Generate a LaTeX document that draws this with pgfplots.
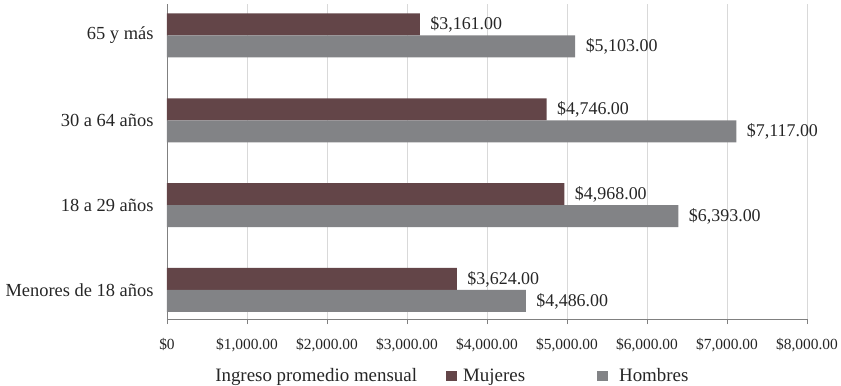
\documentclass[border=0pt]{standalone}
\usepackage{fontspec}
\setmainfont{Liberation Serif}
\usepackage{pgfplots}
\pgfplotsset{compat=1.18}
\definecolor{muj}{HTML}{634548}
\definecolor{hom}{HTML}{828386}
\definecolor{gridc}{HTML}{D9D9D9}
\definecolor{axl}{HTML}{808080}
\begin{document}
\begin{tikzpicture}
\begin{axis}[
  at={(0,0)}, anchor=south west, scale only axis,
  width=640bp, height=315bp,
  xbar, xmin=0, xmax=8000, ymin=-0.342, ymax=3.371,
  axis x line*=bottom, axis y line*=left,
  axis line style={-, draw=axl, line width=0.8bp},
  xtick={0,1000,...,8000},
  xticklabels={\$0,{\$1,000.00},{\$2,000.00},{\$3,000.00},{\$4,000.00},{\$5,000.00},{\$6,000.00},{\$7,000.00},{\$8,000.00}},
  xmajorgrids, major grid style={draw=gridc, line width=0.8bp},
  tick align=outside, major tick length=5bp, xtick style={draw=axl, line width=0.8bp},
  ytick={0,1,2,3},
  yticklabels={Menores de 18 años,18 a 29 años,30 a 64 años,65 y más},
  ytick style={draw=none},
  yticklabel style={font=\fontsize{18.5}{20}\selectfont, text=black!85, xshift=-5bp},
  xticklabel style={font=\fontsize{15.5}{17}\selectfont, text=black!85, yshift=-11bp},
  bar width=22bp,
  point meta=x,
  /pgf/number format/assume math mode=true,
  nodes near coords={\$\pgfmathprintnumber[fixed,fixed zerofill,precision=2,1000 sep={,}]{\pgfplotspointmeta}},
  nodes near coords style={anchor=west, font=\fontsize{18}{20}\selectfont, text=black!85, xshift=7bp},
  legend style={at={(0.442,-0.181)}, anchor=center, draw=none, legend columns=3,
    font=\fontsize{19}{21}\selectfont, text=black!85, column sep=4bp},
  legend image code/.code={\fill[#1] (0bp,-5bp) rectangle (11bp,5.5bp);},
  clip=false,
]
\addlegendimage{empty legend}
\addlegendentry{Ingreso promedio mensual\rule{23bp}{0pt}}
\addplot[fill=muj, draw=none, bar shift=11bp] coordinates {(3624,0) (4968,1) (4746,2) (3161,3)};
\addlegendentry{Mujeres\rule{66bp}{0pt}}
\addplot[fill=hom, draw=none, bar shift=-11bp] coordinates {(4486,0) (6393,1) (7117,2) (5103,3)};
\addlegendentry{\rule{5bp}{0pt}Hombres}
\end{axis}
\pgfresetboundingbox
\useasboundingbox (-167bp,-67bp) rectangle (674bp,319bp);
\end{tikzpicture}
\end{document}
